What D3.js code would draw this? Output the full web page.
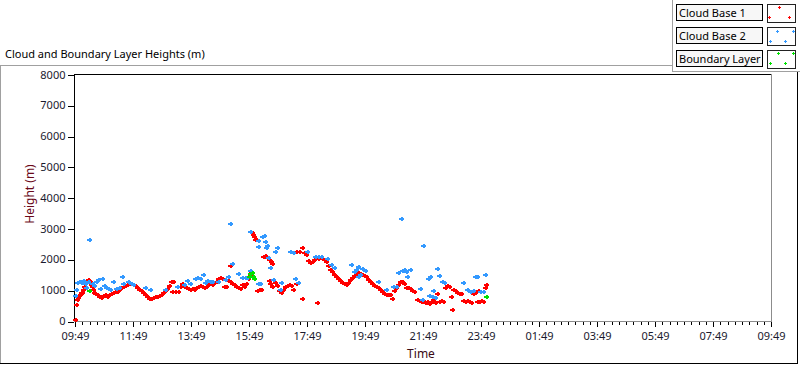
<!DOCTYPE html>
<html>
<head>
<meta charset="utf-8">
<script src="https://cdn.jsdelivr.net/npm/d3@7"></script>
<style>
  body { margin: 0; background: #fff; }
  svg { display: block; font-family: "Noto Sans", sans-serif; }
</style>
</head>
<body>
<script>
// chart start, all times are minutes after this
const startTime = new Date(2020, 0, 1, 9, 49);
const spanHours = 24;

const chartTitle = "Cloud and Boundary Layer Heights (m)";
const xTitle = "Time";
const yTitle = "Height (m)";
const legendNames = ["Cloud Base 1", "Cloud Base 2", "Boundary Layer"];
const yTicks = [0, 1000, 2000, 3000, 4000, 5000, 6000, 7000, 8000];

// [minutes after 09:49, height in m]
const cloudBase1 = [
  [0,30],[2,520],[4,680],[6,750],[8,810],[10,845],[12,910],[14,910],[17,1000],[19,1100],
  [21,1230],[23,1300],[25,1300],[27,1330],[29,1300],[31,1270],[33,1170],[35,1100],[37,1000],[39,910],
  [41,880],[46,845],[50,780],[54,750],[58,810],[62,845],[66,780],[70,845],[74,880],[79,910],
  [83,940],[87,940],[91,1000],[95,1070],[99,1100],[103,1140],[108,1170],[112,1200],[116,1200],[120,1170],
  [124,1140],[128,1070],[132,1000],[137,975],[141,910],[145,845],[149,780],[153,715],[157,715],[161,750],
  [166,780],[170,780],[174,810],[178,845],[182,910],[186,975],[190,1040],[195,1140],[199,1270],[203,1270],
  [201,940],[207,940],[213,940],[217,1100],[221,1200],[226,1100],[230,1070],[234,1040],[238,1000],[242,1040],
  [246,1000],[250,1070],[255,1100],[259,1140],[263,1100],[267,1070],[271,1100],[275,1170],[279,1200],[283,1170],
  [288,1230],[292,1270],[296,1360],[300,1400],[304,1360],[308,1100],[312,1100],[317,1300],[321,1270],[321,1780],
  [325,1200],[329,1170],[333,1100],[337,1070],[341,1040],[346,1170],[350,1100],[354,1200],[358,1360],[362,1490],
  [364,1590],[366,2860],[368,2790],[370,2730],[372,2630],[375,2630],[377,975],[381,1000],[385,1000],[389,2080],
  [393,2110],[397,2040],[401,1980],[406,1910],[408,1850],[401,1300],[403,1200],[408,1100],[414,1230],[418,1140],
  [422,975],[426,910],[430,1000],[435,1100],[439,1140],[443,1170],[447,1140],[451,1000],[457,1200],[461,1230],
  [470,2370],[470,715],[457,2240],[463,2240],[474,2210],[478,2140],[482,1950],[486,1880],[490,1910],[494,1980],
  [499,2040],[503,2010],[507,2040],[511,2010],[515,1980],[519,1910],[501,585],[523,1780],[528,1650],[532,1590],
  [536,1490],[540,1430],[544,1360],[548,1300],[552,1230],[557,1200],[561,1170],[565,1230],[569,1330],[573,1400],
  [577,1460],[581,1530],[586,1560],[590,1530],[594,1490],[598,1460],[602,1430],[606,1330],[610,1270],[615,1200],
  [619,1140],[623,1100],[627,1070],[631,1000],[635,940],[639,880],[644,845],[648,845],[652,845],[656,715],
  [660,975],[664,1070],[668,1170],[672,1270],[677,1270],[681,1200],[685,1070],[689,1070],[693,1040],[697,975],
  [701,940],[708,680],[712,650],[716,615],[720,650],[724,585],[728,615],[732,550],[737,615],[741,680],
  [745,585],[749,880],[753,615],[757,650],[761,615],[766,1070],[770,1140],[774,1100],[778,780],[780,360],
  [782,1000],[786,975],[790,910],[794,880],[799,880],[803,650],[807,615],[811,650],[815,615],[819,585],
  [823,880],[828,910],[832,615],[834,975],[836,615],[840,650],[844,615],[848,1070],[850,1170]
];

const cloudBase2 = [
  [0,810],[2,1000],[4,1230],[8,1270],[12,1230],[17,1300],[21,1200],[29,2630],[23,1070],[27,1270],
  [35,1200],[39,1140],[43,1270],[48,1330],[52,1040],[56,1360],[60,1140],[64,1070],[68,1040],[72,1000],
  [79,1270],[85,1040],[91,1070],[97,1430],[99,1200],[110,1270],[116,1200],[120,1170],[145,1070],[155,1000],
  [186,1000],[211,1100],[226,1170],[232,1300],[238,1200],[248,1360],[252,1400],[259,1360],[265,1490],[269,1230],
  [273,1300],[279,1270],[283,1270],[296,1270],[310,1330],[317,1430],[321,3150],[325,1850],[337,1530],[346,1400],
  [352,1400],[356,1400],[362,2890],[362,1620],[379,2600],[379,2400],[387,2730],[391,2760],[393,2560],[397,2430],
  [379,1200],[383,1200],[395,2370],[399,2040],[403,1720],[410,1330],[414,2240],[418,2370],[424,1000],[426,1230],
  [445,2240],[451,2210],[455,1360],[461,1230],[480,2240],[497,2080],[503,2080],[509,2080],[521,2010],[530,1820],
  [536,1720],[571,1820],[577,1590],[581,1650],[586,1430],[590,1490],[586,1750],[594,1690],[600,1620],[627,1270],
  [644,1000],[658,1100],[664,1100],[668,1560],[675,3310],[677,1620],[681,1650],[685,1590],[687,1430],[693,1650],
  [714,1040],[720,2430],[718,680],[730,1360],[735,1430],[741,975],[732,810],[739,780],[745,750],[749,1690],
  [753,1460],[759,1270],[764,1230],[803,1230],[811,1000],[817,940],[823,975],[828,1430],[832,1430],[838,940],
  [844,940],[848,1490]
];

const boundaryLayer = [
  [29,975],[360,1430],[362,1530],[366,1560],[368,1430],[370,1360],[850,780]
];

const W = 800, H = 365;
const svg = d3.select("body").append("svg")
  .attr("width", W)
  .attr("height", H);

// panel frames
const frame = svg.append("g").attr("shape-rendering", "crispEdges").attr("stroke-width", 1);
frame.append("line").attr("x1", 0).attr("x2", 673).attr("y1", 65.5).attr("y2", 65.5).attr("stroke", "#a0a0a0");
frame.append("line").attr("x1", 0.5).attr("x2", 0.5).attr("y1", 65.5).attr("y2", 364).attr("stroke", "#a0a0a0");
frame.append("line").attr("x1", 0).attr("x2", 798).attr("y1", 363.5).attr("y2", 363.5).attr("stroke", "#000");
frame.append("line").attr("x1", 797.5).attr("x2", 797.5).attr("y1", 71.5).attr("y2", 364).attr("stroke", "#000");
frame.append("line").attr("x1", 672.5).attr("x2", 672.5).attr("y1", 0).attr("y2", 72).attr("stroke", "#a0a0a0");
frame.append("line").attr("x1", 672).attr("x2", 800).attr("y1", 71.5).attr("y2", 71.5).attr("stroke", "#a0a0a0");

svg.append("text")
  .attr("x", 5).attr("y", 58)
  .attr("font-size", 11).attr("fill", "#000")
  .text(chartTitle);

// scales
const x = d3.scaleTime()
  .domain([startTime, d3.timeHour.offset(startTime, spanHours)])
  .range([75, 771]);
const y = d3.scaleLinear().domain([0, 8000]).range([321, 74.5]);
const at = m => d3.timeMinute.offset(startTime, m);

// plot area frame
const plot = svg.append("g").attr("shape-rendering", "crispEdges");
plot.append("line").attr("x1", 74).attr("x2", 772).attr("y1", 74.5).attr("y2", 74.5).attr("stroke", "#000");
plot.append("line").attr("x1", 74.5).attr("x2", 74.5).attr("y1", 74).attr("y2", 322).attr("stroke", "#000");
plot.append("line").attr("x1", 771.5).attr("x2", 771.5).attr("y1", 74).attr("y2", 322).attr("stroke", "#8c8c8c");
plot.append("line").attr("x1", 74).attr("x2", 772).attr("y1", 321.5).attr("y2", 321.5).attr("stroke", "#8c8c8c");

// axes
const majorTicks = d3.range(0, spanHours + 1, 2).map(h => d3.timeHour.offset(startTime, h));
const minorTicks = d3.range(0, spanHours * 60 + 1, 15).map(at);

const xMinor = svg.append("g")
  .attr("transform", "translate(0,321.5)")
  .call(d3.axisBottom(x).tickValues(minorTicks).tickSize(3).tickFormat("").tickSizeOuter(0));
const xMajor = svg.append("g")
  .attr("transform", "translate(0,321.5)")
  .call(d3.axisBottom(x).tickValues(majorTicks).tickSize(5).tickPadding(6)
    .tickFormat(d3.timeFormat("%H:%M")).tickSizeOuter(0));

const yAxis = svg.append("g")
  .attr("transform", "translate(73.5,0)")
  .call(d3.axisLeft(y).tickValues(yTicks).tickSize(6).tickPadding(2)
    .tickFormat(d3.format("d")).tickSizeOuter(0));

[xMinor, xMajor, yAxis].forEach(g => {
  g.select(".domain").remove();
  g.attr("shape-rendering", "crispEdges");
  g.selectAll(".tick line").attr("stroke", "#000");
  g.selectAll("text").attr("font-family", "Noto Sans").attr("font-size", 11).attr("fill", "#1a1a2e");
});
yAxis.selectAll(".tick line").attr("transform", "translate(0,0.5)");

svg.append("text")
  .attr("x", 421).attr("y", 358)
  .attr("text-anchor", "middle")
  .attr("font-size", 12).attr("fill", "#3a0a14")
  .text(xTitle);

svg.append("text")
  .attr("transform", "translate(34,194) rotate(-90)")
  .attr("text-anchor", "middle")
  .attr("font-size", 12).attr("fill", "#6b0a1a")
  .text(yTitle);

// markers
const plusShape = "M-2,-1h5v2h-5z M-0.5,-2h2v4h-2z";
const series = [
  { data: cloudBase1, color: "#ff0000" },
  { data: cloudBase2, color: "#3399ff" },
  { data: boundaryLayer, color: "#00e000" }
];

series.forEach(s => {
  svg.append("g")
    .attr("shape-rendering", "crispEdges")
    .selectAll("path")
    .data(s.data)
    .join("path")
    .attr("transform", d => `translate(${Math.round(x(at(d[0])))},${Math.round(y(d[1]))})`)
    .attr("d", plusShape)
    .attr("fill", s.color);
});

// legend
const legendSpots = [
  [[12, 3], [2, 13], [22, 13]],
  [[10, 4], [26, 4], [3, 14], [18, 14]],
  [[11, 3], [26, 3], [3, 13], [18, 13]]
];
const legend = svg.append("g").attr("shape-rendering", "crispEdges");
legendNames.forEach((name, i) => {
  const top = 4 + i * 23;
  legend.append("rect")
    .attr("x", 676.5).attr("y", top + 0.5)
    .attr("width", 86).attr("height", 16)
    .attr("fill", "#f7f7f7").attr("stroke", "#000");
  legend.append("text")
    .attr("x", 679).attr("y", top + 12.5)
    .attr("font-size", 11).attr("fill", "#000")
    .attr("shape-rendering", "auto")
    .text(name);
  legend.append("rect")
    .attr("x", 767.5).attr("y", top + 0.5)
    .attr("width", 28).attr("height", 18)
    .attr("fill", "#fff").attr("stroke", "#222");
  legend.selectAll(null)
    .data(legendSpots[i])
    .join("path")
    .attr("transform", d => `translate(${767 + d[0]},${top + d[1]})`)
    .attr("d", "M-1,0.5h3 M0.5,-1v3")
    .attr("stroke", series[i].color)
    .attr("stroke-width", 1);
});
</script>
</body>
</html>
